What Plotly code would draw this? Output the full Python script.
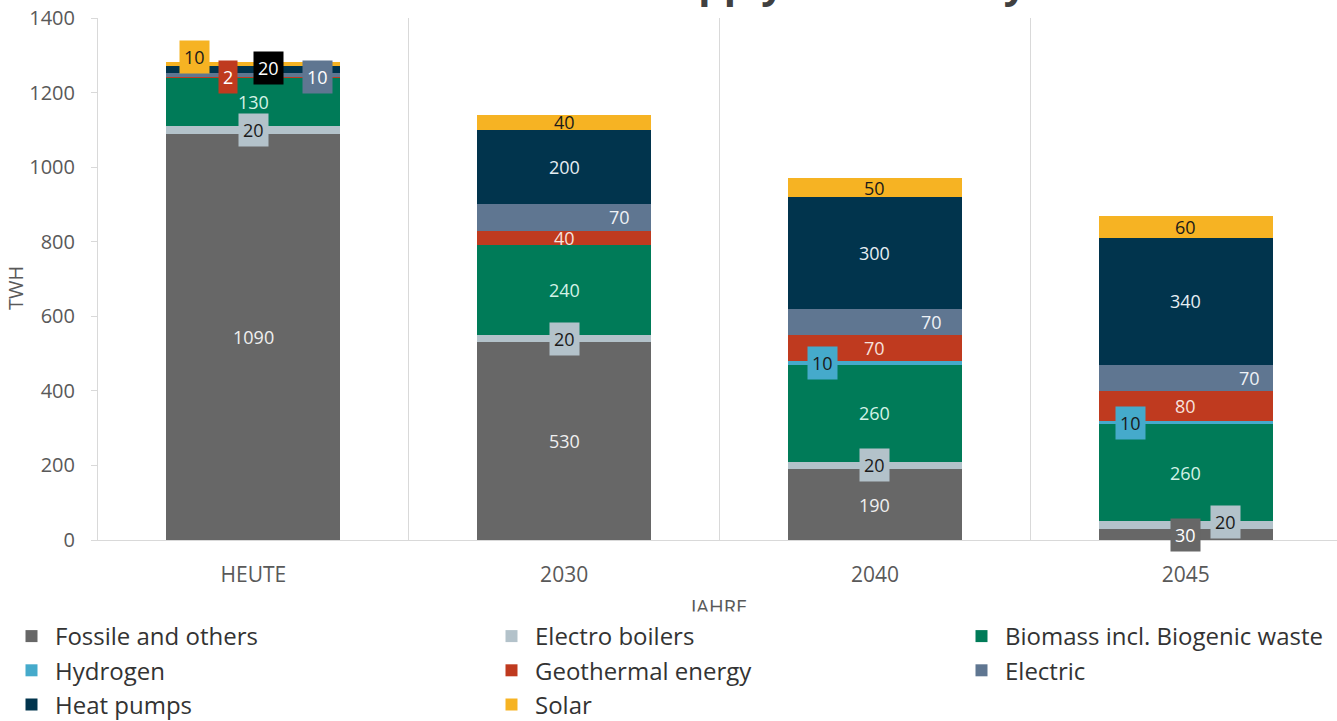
import plotly.graph_objects as go

# ---------------- data ----------------
categories = ["HEUTE", "2030", "2040", "2045"]
fossile = [1090, 530, 190, 30]
electro_boilers = [20, 20, 20, 20]
biomass = [130, 240, 260, 260]
hydrogen = [0, 0, 10, 10]
geothermal = [2, 40, 70, 80]
electric = [10, 70, 70, 70]
heat_pumps = [20, 200, 300, 340]
solar = [10, 40, 50, 60]
y_tick_values = [0, 200, 400, 600, 800, 1000, 1200, 1400]
y_title = "TWH"
x_title = "JAHRE"
chart_title = "Heat supply in Germany"

series = [
    ("Fossile and others", fossile),
    ("Electro boilers", electro_boilers),
    ("Biomass incl. Biogenic waste", biomass),
    ("Hydrogen", hydrogen),
    ("Geothermal energy", geothermal),
    ("Electric", electric),
    ("Heat pumps", heat_pumps),
    ("Solar", solar),
]

# ---------------- styles ----------------
FONT = "Open Sans"
bar_colors = {
    "Fossile and others": "#676767",
    "Electro boilers": "#b3c2ca",
    "Biomass incl. Biogenic waste": "#007b58",
    "Hydrogen": "#45aacb",
    "Geothermal energy": "#bf3a1f",
    "Electric": "#5f7691",
    "Heat pumps": "#01344d",
    "Solar": "#f6b323",
}
label_text_colors = {
    "Fossile and others": "#f0f0f0",
    "Electro boilers": "#1a1a1a",
    "Biomass incl. Biogenic waste": "#d4f2e6",
    "Hydrogen": "#1a1a1a",
    "Geothermal energy": "#f7e1dc",
    "Electric": "#eef2f6",
    "Heat pumps": "#e6eef3",
    "Solar": "#1a1a1a",
}
# legend column for each series (3 columns, row-major like the reference)
legend_column = {
    "Fossile and others": "legend", "Hydrogen": "legend", "Heat pumps": "legend",
    "Electro boilers": "legend2", "Geothermal energy": "legend2", "Solar": "legend2",
    "Biomass incl. Biogenic waste": "legend3", "Electric": "legend3",
}
# per-category label styles: (box colour or None, xshift px, yshift px)
label_layout = {
    "Fossile and others": [(None, 0, 0), (None, 0, 0), (None, 0, 0), ("#676767", 0, -1)],
    "Electro boilers": [("#b3c2ca", 0, 0), ("#b3c2ca", 0, 0), ("#b3c2ca", 0, 0), ("#b3c2ca", 40, 3)],
    "Biomass incl. Biogenic waste": [(None, 0, 0)] * 4,
    "Hydrogen": [(None, 0, 0), (None, 0, 0), ("#45aacb", -52, 0), ("#45aacb", -55, 0)],
    "Geothermal energy": [("#bf3a1f", -25, 0), (None, 0, 0), (None, 0, 0), (None, 0, 0)],
    "Electric": [("#5f7691", 64, -2), (None, 55, 0), (None, 57, 0), (None, 64, 0)],
    "Heat pumps": [("#000000", 15, 1), (None, 0, 0), (None, 0, 0), (None, 0, 0)],
    "Solar": [("#f6b323", -59, 7), (None, 0, 0), (None, 0, 0), (None, 0, 0)],
}
box_text_white = {("Geothermal energy", 0), ("Electric", 0), ("Heat pumps", 0), ("Fossile and others", 3)}

fig = go.Figure()
for name, vals in series:
    fig.add_trace(go.Bar(
        name=name, x=categories, y=vals,
        marker=dict(color=bar_colors[name], line=dict(width=0)),
        hoverinfo="skip", legend=legend_column[name],
    ))

annotations = []
base = [0] * len(categories)
for name, vals in series:
    for i, v in enumerate(vals):
        if v > 0:
            box, xs, ys = label_layout[name][i]
            if box is None:
                col = label_text_colors[name]
            else:
                col = "#ffffff" if (name, i) in box_text_white else "#1a1a1a"
            ann = dict(
                x=i, y=base[i] + v / 2, xref="x", yref="y",
                text=str(v), showarrow=False, xshift=xs, yshift=ys,
                font=dict(family=FONT, size=18, color=col),
            )
            if box is not None:
                ann.update(bgcolor=box, borderpad=4)
            annotations.append(ann)
        base[i] += v

PLOT_L, PLOT_W, PLOT_T, PLOT_H = 98, 1239, 18, 522


def px_to_paper(px, py):
    return (px - PLOT_L) / PLOT_W, (PLOT_T + PLOT_H - py) / PLOT_H


# y axis title
tx, ty = px_to_paper(16, 288)
annotations.append(dict(
    x=tx, y=ty, xref="paper", yref="paper", text=y_title, showarrow=False, textangle=-90,
    font=dict(family=FONT, size=20, color="#595959"), xanchor="center", yanchor="middle",
))
# x axis title (lower part hidden behind the legend area, as in the reference)
jx, jy = px_to_paper(720, 606)
annotations.append(dict(
    x=0.5, y=jy, xref="paper", yref="paper", text=x_title, showarrow=False,
    font=dict(family=FONT, size=20, color="#595959"), yanchor="middle",
))
cx, cy = px_to_paper(720, 617)
annotations.append(dict(
    x=0.5, y=cy, xref="paper", yref="paper", text=" ", showarrow=False,
    width=90, height=10, bgcolor="#ffffff", borderpad=0, yanchor="middle",
))
# chart title (mostly above the visible page)
annotations.append(dict(
    x=(544 - 98) / 1239, y=1.0345, xref="paper", yref="paper", text="<b>" + chart_title + "</b>",
    showarrow=False, xanchor="left", yanchor="bottom", yshift=-12,
    font=dict(family=FONT, size=40, color="#404040"),
))

legend_common = dict(
    orientation="v", xref="container", yref="container", yanchor="top", xanchor="left",
    font=dict(family=FONT, size=24, color="#333333"), bgcolor="rgba(255,255,255,0)",
    traceorder="normal", itemwidth=37, tracegroupgap=0,
)
ytop = 1 - 614 / 721
fig.update_layout(
    width=1337, height=721,
    margin=dict(l=98, r=0, t=18, b=181, autoexpand=False),
    paper_bgcolor="white", plot_bgcolor="white",
    barmode="stack", bargap=0.44,
    font=dict(family=FONT, color="#595959"),
    showlegend=True,
    legend=dict(legend_common, x=8 / 1337, y=ytop),
    legend2=dict(legend_common, x=488 / 1337, y=ytop),
    legend3=dict(legend_common, x=958 / 1337, y=ytop),
    annotations=annotations,
)
fig.update_xaxes(
    type="category", tickson="boundaries", showgrid=True, gridcolor="#d9d9d9", gridwidth=1,
    showline=True, linecolor="#d9d9d9", ticks="", range=[-0.5, 3.487],
    ticklabelstandoff=16, automargin=False,
    tickfont=dict(family=FONT, size=21, color="#595959"),
)
fig.update_yaxes(
    range=[0, 1400], tickvals=y_tick_values, showgrid=False, zeroline=False,
    showline=True, linecolor="#d9d9d9", ticks="outside", ticklen=6, tickcolor="#d9d9d9",
    ticklabelstandoff=12, automargin=False,
    tickfont=dict(family=FONT, size=20, color="#595959"),
)

fig.write_html("out.html")
